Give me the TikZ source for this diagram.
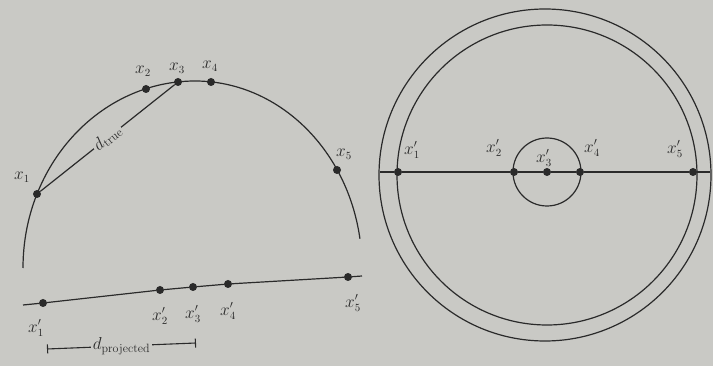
\documentclass[tikz,border=0pt]{standalone}
\usepackage{tikz}
\usetikzlibrary{arrows.meta}
\definecolor{paper}{HTML}{C9C9C5}
\definecolor{ink}{HTML}{2A2A2A}

\begin{document}
\begin{tikzpicture}[x=1pt, y=-1pt,
  dot/.style={circle, fill=ink, inner sep=0pt, minimum size=8pt},
  lab/.style={text=ink, font=\fontsize{16}{18}\selectfont, inner sep=1pt},
  gaplab/.style={fill=paper, text=ink, font=\fontsize{17}{19}\selectfont, inner sep=2pt},
  ink line/.style={draw=ink, line width=1.2pt}]
  \fill[paper] (0,0) rectangle (713,366);
  % left: points on the arc
  \coordinate (a0) at (23,268);
  \node[dot] (x1) at ( 37,194) {};
  \node[dot] (x2) at (146, 89) {};
  \node[dot] (x3) at (178, 82) {};
  \node[dot] (x4) at (211, 82) {};
  \node[dot] (x5) at (337,170) {};
  \draw[ink line] (a0) arc[start angle=180, end angle=270, x radius=172, y radius=187]
    arc[start angle=270, end angle=351, x radius=167, y radius=187];
  \draw[ink line] (x1) -- node[sloped, gaplab] {$d_{\mathrm{true}}$} (x3);
  \node[lab] at ( 22,177) {$x_1$};
  \node[lab] at (143, 71) {$x_2$};
  \node[lab] at (177, 68) {$x_3$};
  \node[lab] at (210, 66) {$x_4$};
  \node[lab] at (344,154) {$x_5$};
  % left: projected line
  \coordinate (l0) at (23,305);
  \coordinate (l1) at (362,276);
  \node[dot] (p1) at ( 43,303) {};
  \node[dot] (p2) at (160,290) {};
  \node[dot] (p3) at (193,287) {};
  \node[dot] (p4) at (228,284) {};
  \node[dot] (p5) at (348,277) {};
  \draw[ink line] (l0) -- (p1) -- (p2) -- (p3) -- (p4) -- (p5) -- (l1);
  \node[lab] at ( 36,328) {$x'_1$};
  \node[lab] at (160,316) {$x'_2$};
  \node[lab] at (193,314) {$x'_3$};
  \node[lab] at (228,311) {$x'_4$};
  \node[lab] at (353,303) {$x'_5$};
  \coordinate (dl) at (47,349);
  \coordinate (dr) at (196,343);
  \draw[ink, line width=1.1pt, {Bar[width=9pt]}-{Bar[width=9pt]}] (dl) -- node[gaplab] {$d_{\mathrm{projected}}$} (dr);
  % right: rings seen from above
  \coordinate (c0) at (545,175);
  \coordinate (c1) at (547,175);
  \draw[ink line] (c0) circle (166);
  \draw[ink line] (c1) circle (150);
  \coordinate (r0) at (380,172);
  \coordinate (r1) at (710,172);
  \node[dot] (q1) at (398,172) {};
  \node[dot] (q2) at (514,172) {};
  \node[dot] (q3) at (547,172) {};
  \node[dot] (q4) at (580,172) {};
  \node[dot] (q5) at (693,172) {};
  \draw[ink line] (r0) -- (q1) -- (q2) -- (q3) -- (q4) -- (q5) -- (r1);
  \draw[ink line] (q3) circle (34);
  \node[lab] at (412,150) {$x'_1$};
  \node[lab] at (494,148) {$x'_2$};
  \node[lab] at (544,158) {$x'_3$};
  \node[lab] at (592,148) {$x'_4$};
  \node[lab] at (675,149) {$x'_5$};
\end{tikzpicture}
\end{document}
